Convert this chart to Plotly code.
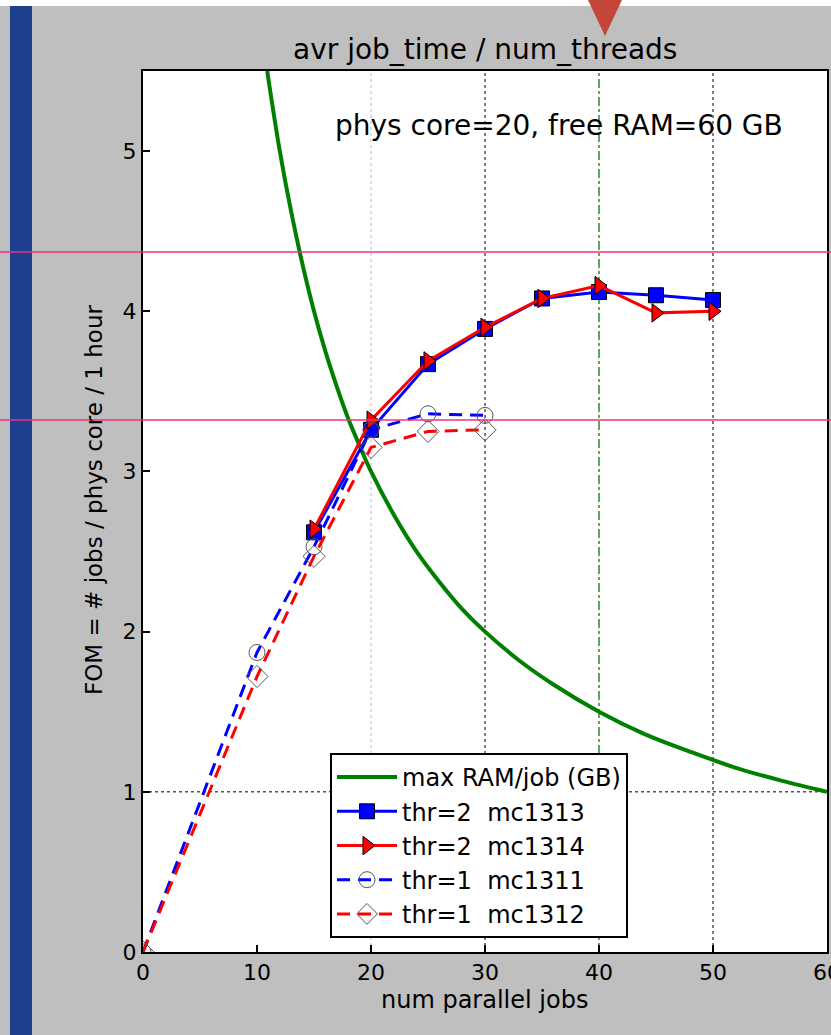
import plotly.graph_objects as go

# ---------------- data ----------------
ram_x = [10.9, 11, 12, 13, 14, 15, 16, 17, 18, 19, 20, 22, 24, 26, 28, 30, 33, 36, 40, 44, 48, 52, 56, 60]
ram_y = [5.5, 5.45, 5.0, 4.62, 4.29, 4.0, 3.75, 3.53, 3.33, 3.16, 3.0, 2.73, 2.5, 2.31, 2.14, 2.0,
         1.82, 1.67, 1.5, 1.36, 1.25, 1.15, 1.07, 1.0]

thr2_x = [15, 20, 25, 30, 35, 40, 45, 50]
mc1313_y = [2.62, 3.26, 3.67, 3.89, 4.08, 4.12, 4.10, 4.07]
mc1314_y = [2.64, 3.32, 3.69, 3.90, 4.08, 4.16, 3.99, 4.00]

thr1_x = [0, 10, 15, 20, 25, 30]
mc1311_y = [0.0, 1.87, 2.53, 3.26, 3.36, 3.35]
mc1312_y = [0.0, 1.72, 2.47, 3.15, 3.25, 3.26]

x_ticks = [0, 10, 20, 30, 40, 50, 60]
y_ticks = [0, 1, 2, 3, 4, 5]

vlines_x = [20, 30, 40, 50]
hline_y = 1

title_text = "avr job_time / num_threads"
note_text = "phys core=20, free RAM=60 GB"
x_title = "num parallel jobs"
y_title = "FOM = # jobs / phys core / 1 hour"

# ---------------- layout helpers ----------------
W, H = 831, 1035
L, R, T, B = 143, 827, 71, 952   # plot area in pixels


def px(X):
    return (X - L) / (R - L)


def py(Y):
    return (B - Y) / (B - T)


FONT = "DejaVu Sans"
DASH = "13px,8px"

fig = go.Figure()

fig.add_trace(go.Scatter(x=ram_x, y=ram_y, mode="lines", name="max RAM/job (GB)",
                         line=dict(color="#008000", width=4, shape="spline")))
fig.add_trace(go.Scatter(x=thr2_x, y=mc1313_y, mode="lines+markers", name="thr=2  mc1313",
                         line=dict(color="#0000ff", width=3),
                         marker=dict(symbol="square", size=15, color="#0000ff",
                                     line=dict(color="black", width=1))))
fig.add_trace(go.Scatter(x=thr2_x, y=mc1314_y, mode="lines+markers", name="thr=2  mc1314",
                         line=dict(color="#ff0000", width=3),
                         marker=dict(symbol="triangle-right", size=16, color="#ff0000",
                                     line=dict(color="black", width=1))))
fig.add_trace(go.Scatter(x=thr1_x, y=mc1311_y, mode="lines+markers", name="thr=1  mc1311",
                         line=dict(color="#0000ff", width=3, dash=DASH),
                         marker=dict(symbol="circle-open", size=16, color="#555555",
                                     line=dict(width=1))))
fig.add_trace(go.Scatter(x=thr1_x, y=mc1312_y, mode="lines+markers", name="thr=1  mc1312",
                         line=dict(color="#ff0000", width=3, dash=DASH),
                         marker=dict(symbol="diamond-open", size=17, color="#555555",
                                     line=dict(width=1))))

# reference lines
vstyles = [dict(color="#d8d8ff", width=2, dash="dot"),
           dict(color="#555555", width=1.5, dash="dot"),
           dict(color="#2a8a2a", width=1.5, dash="dashdot"),
           dict(color="#555555", width=1.5, dash="dot")]
for vx, st in zip(vlines_x, vstyles):
    fig.add_shape(type="line", xref="x", yref="paper", x0=vx, x1=vx, y0=0, y1=1,
                  line=st, layer="below")
fig.add_shape(type="line", xref="paper", yref="y", x0=0, x1=1, y0=hline_y, y1=hline_y,
              line=dict(color="#555555", width=1.5, dash="dot"), layer="below")

# decorations of the screenshot (outside the plot)
fig.add_shape(type="rect", xref="paper", yref="paper", x0=px(0), x1=px(W), y0=py(0), y1=py(6),
              fillcolor="white", line=dict(width=0), layer="above")
fig.add_shape(type="rect", xref="paper", yref="paper", x0=px(10), x1=px(32), y0=py(6), y1=py(H),
              fillcolor="#1d3f8e", line=dict(width=0), layer="above")
tri = "M {} {} L {} {} L {} {} Z".format(px(588), py(0), px(622), py(0), px(605), py(36))
fig.add_shape(type="path", xref="paper", yref="paper", path=tri,
              fillcolor="#c4463a", line=dict(width=0), layer="above")
for yy in (252, 420):
    fig.add_shape(type="line", xref="paper", yref="paper", x0=px(0), x1=px(W), y0=py(yy), y1=py(yy),
                  line=dict(color="#f0307f", width=1.5), layer="above")

# texts
fig.add_annotation(text=title_text, xref="paper", yref="paper", x=px(485), y=py(49),
                   showarrow=False, font=dict(family=FONT, size=28, color="black"),
                   xanchor="center", yanchor="middle")
fig.add_annotation(text=note_text, xref="paper", yref="paper", x=px(559), y=py(126),
                   showarrow=False, font=dict(family=FONT, size=28, color="black"),
                   xanchor="center", yanchor="middle")
fig.add_annotation(text=x_title, xref="paper", yref="paper", x=px(484), y=py(1000),
                   showarrow=False, font=dict(family=FONT, size=24, color="black"),
                   xanchor="center", yanchor="middle")
fig.add_annotation(text=y_title, xref="paper", yref="paper", x=px(94), y=py(500),
                   showarrow=False, textangle=-90, font=dict(family=FONT, size=23, color="black"),
                   xanchor="center", yanchor="middle")

fig.update_xaxes(range=[0, 60], tickvals=x_ticks, ticks="inside", ticklen=7, tickwidth=1.5,
                 tickcolor="black", showline=True, linecolor="black", linewidth=2, mirror=True,
                 showgrid=False, zeroline=False, ticklabeloverflow="allow", automargin=False,
                 tickfont=dict(family=FONT, size=22, color="black"))
fig.update_yaxes(range=[0, 5.5], tickvals=y_ticks, ticks="inside", ticklen=7, tickwidth=1.5,
                 tickcolor="black", showline=True, linecolor="black", linewidth=2, mirror=True,
                 showgrid=False, zeroline=False, ticklabeloverflow="allow", automargin=False,
                 tickfont=dict(family=FONT, size=22, color="black"))

fig.update_layout(
    width=W, height=H,
    margin=dict(l=L, r=W - R, t=T, b=H - B, pad=0, autoexpand=False),
    paper_bgcolor="#bfbfbf", plot_bgcolor="white",
    showlegend=True,
    legend=dict(x=px(330), y=py(753), xanchor="left", yanchor="top",
                bgcolor="white", bordercolor="black", borderwidth=2,
                font=dict(family=FONT, size=24, color="black"),
                itemwidth=60, tracegroupgap=0),
    font=dict(family=FONT),
)

fig.write_html("out.html")
